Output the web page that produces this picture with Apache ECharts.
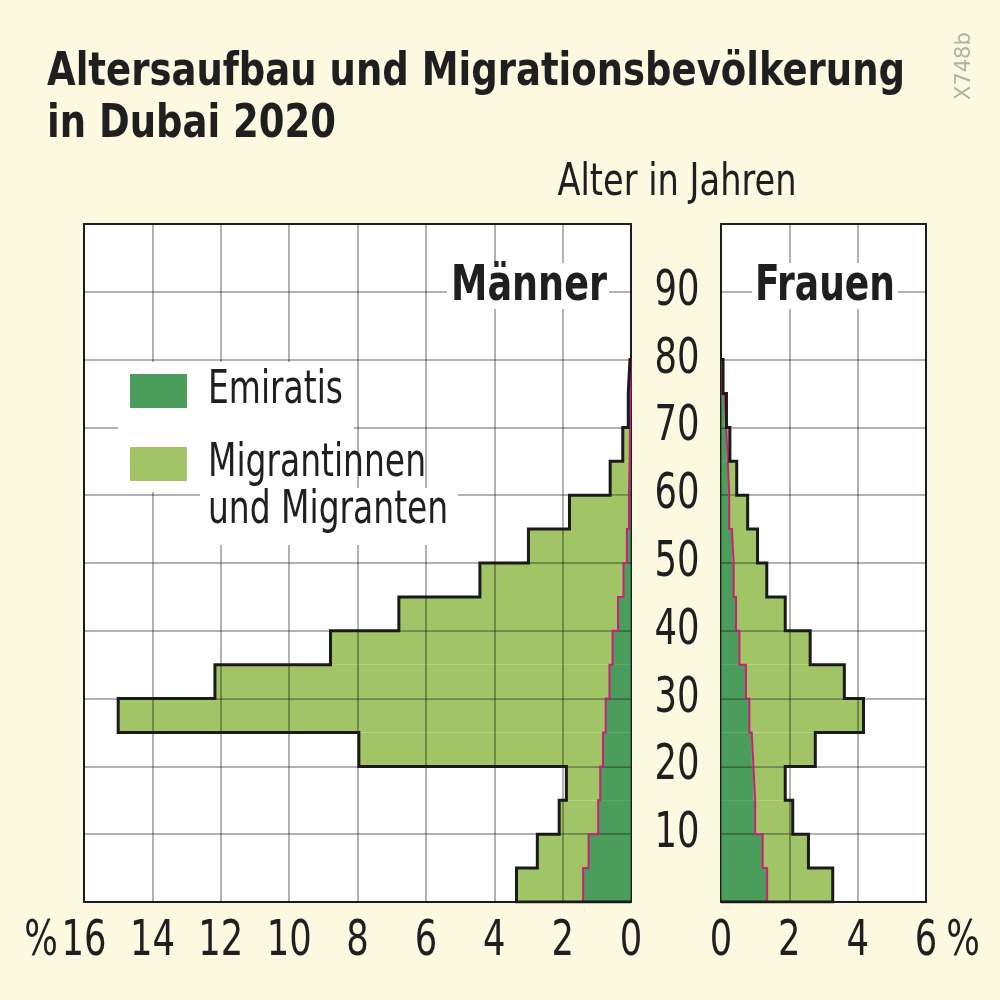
<!DOCTYPE html>
<html>
<head>
<meta charset="utf-8">
<title>Altersaufbau Dubai 2020</title>
<script src="https://cdn.jsdelivr.net/npm/echarts@6/dist/echarts.min.js"></script>
<style>
  html, body { margin: 0; padding: 0; background: #fdf8e0; }
  #chart { width: 1000px; height: 1000px; }
</style>
</head>
<body>
<div id="chart"></div>
<script>
// Altersgruppen in 5-Jahres-Schritten (0-4 ... 95-99)
const ageGroups = ['0-4', '5-9', '10-14', '15-19', '20-24', '25-29', '30-34', '35-39', '40-44',
  '45-49', '50-54', '55-59', '60-64', '65-69', '70-74', '75-79', '80-84', '85-89', '90-94', '95-99'];
const binStarts = [0, 5, 10, 15, 20, 25, 30, 35, 40, 45, 50, 55, 60, 65, 70, 75];
// Anteil in % (gesamt = Emiratis + Migranten)
const maleTotal = [3.35, 2.74, 2.1, 1.89, 7.96, 15.0, 12.17, 8.79, 6.79, 4.42, 3.0, 1.8, 0.61, 0.24, 0.08, 0.03];
const maleEmirati = [1.4, 1.24, 0.96, 0.9, 0.82, 0.74, 0.63, 0.54, 0.38, 0.22, 0.12, 0.06, 0.04, 0.03, 0.02, 0.01];
const femaleTotal = [3.27, 2.56, 2.1, 1.88, 2.76, 4.17, 3.61, 2.61, 1.88, 1.34, 1.07, 0.78, 0.46, 0.26, 0.16, 0.06];
const femaleEmirati = [1.35, 1.22, 1.0, 0.95, 0.9, 0.83, 0.73, 0.54, 0.44, 0.37, 0.32, 0.24, 0.2, 0.15, 0.1, 0.04];
const maleTicks = [0, 2, 4, 6, 8, 10, 12, 14, 16];
const femaleTicks = [0, 2, 4, 6];
const ageTicks = [10, 20, 30, 40, 50, 60, 70, 80, 90];

const FONT = '"DejaVu Sans Condensed", "DejaVu Sans", sans-serif';
const DARK = '#4b9d5b';
const LIGHT = '#a1c466';
const MAGENTA = '#cc1f7c';
const INK = '#1f1f1f';

// Stufenlinie aus den Balkenwerten bauen
function stepLine(values, closeToZero) {
  const pts = closeToZero ? [[0, 0]] : [];
  values.forEach((v, i) => {
    pts.push([v, binStarts[i]]);
    pts.push([v, binStarts[i] + 5]);
  });
  if (closeToZero) pts.push([0, binStarts[binStarts.length - 1] + 5]);
  return pts;
}

// schmale Schrift nachbilden: Text horizontal auf Zielbreite stauchen
const measureCtx = document.createElement('canvas').getContext('2d');
function squeeze(text, font, width) {
  measureCtx.font = font;
  return width / measureCtx.measureText(text).width;
}

function txt(text, x, y, font, width, align, scaleX) {
  return {
    type: 'text', x: x, y: y, z: 101,
    scaleX: scaleX || squeeze(text, font, width),
    style: { text: text, font: font, fill: INK, align: align || 'left', verticalAlign: 'middle' }
  };
}

const chart = echarts.init(document.getElementById('chart'));

const gridLineStyle = { color: 'rgba(0,0,0,0.3)', width: 2 };

function xAxisFor(gridIndex, max, inverse) {
  return {
    type: 'value', gridIndex: gridIndex, min: 0, max: max, interval: 2, inverse: inverse, z: 3,
    axisLine: { show: false }, axisTick: { show: false }, axisLabel: { show: false },
    splitLine: { show: true, lineStyle: gridLineStyle }
  };
}

function ageAxis(gridIndex) {
  return {
    type: 'value', gridIndex: gridIndex, position: 'left', min: 0, max: 100, interval: 10, z: 3,
    axisLine: { show: false }, axisTick: { show: false }, axisLabel: { show: false },
    splitLine: { show: true, lineStyle: gridLineStyle }
  };
}

function binAxis(gridIndex) {
  return { type: 'category', gridIndex: gridIndex, data: ageGroups, show: false };
}

function barSeries(xi, yi, data, color) {
  return {
    type: 'bar', xAxisIndex: xi, yAxisIndex: yi, data: data, barCategoryGap: '0%', barGap: '-100%',
    itemStyle: { color: color }, z: 2, silent: true
  };
}

function lineSeries(xi, yi, pts, color, width) {
  return {
    type: 'line', xAxisIndex: xi, yAxisIndex: yi, data: pts, showSymbol: false, z: 5,
    lineStyle: { color: color, width: width, join: 'miter' }, silent: true
  };
}

chart.setOption({
  backgroundColor: '#fdf8e0',
  animation: false,
  grid: [
    { left: 84, top: 224, width: 547, height: 678, show: true, backgroundColor: '#ffffff', borderColor: '#2a2a2a', borderWidth: 2 },
    { left: 721, top: 224, width: 205, height: 678, show: true, backgroundColor: '#ffffff', borderColor: '#2a2a2a', borderWidth: 2 }
  ],
  xAxis: [xAxisFor(0, 16, true), xAxisFor(1, 6, false)],
  yAxis: [binAxis(0), ageAxis(0), binAxis(1), ageAxis(1)],
  series: [
    barSeries(0, 0, maleTotal, LIGHT),
    barSeries(0, 0, maleEmirati, DARK),
    lineSeries(0, 1, stepLine(maleEmirati, false), MAGENTA, 2),
    lineSeries(0, 1, stepLine(maleTotal, true), '#1a1a1a', 3),
    barSeries(1, 2, femaleTotal, LIGHT),
    barSeries(1, 2, femaleEmirati, DARK),
    lineSeries(1, 3, stepLine(femaleEmirati, false), MAGENTA, 2),
    lineSeries(1, 3, stepLine(femaleTotal, true), '#1a1a1a', 3)
  ]
});

const titleFont = 'bold 46px ' + FONT;
const titleScale = squeeze('Altersaufbau und Migrationsbevölkerung', titleFont, 858);
const labelFont = '50px ' + FONT;
const labelScale = squeeze('90', labelFont, 45);
const headFont = 'bold 50px ' + FONT;
const legFont = '46px ' + FONT;
const legScale = squeeze('Migrantinnen', legFont, 218);

const graphics = [
  txt('Altersaufbau und Migrationsbevölkerung', 47, 73, titleFont, 0, 'left', titleScale),
  txt('in Dubai 2020', 47, 125, titleFont, 0, 'left', titleScale),
  { type: 'text', x: 954, y: 100, rotation: Math.PI / 2, z: 100,
    style: { text: 'X748b', font: '21px "DejaVu Sans", sans-serif', fill: '#b3b1a6' } },
  txt('Alter in Jahren', 677, 184, '44px ' + FONT, 239, 'center'),
  txt('%', 41, 942, labelFont, 0, 'center', labelScale),
  txt('%', 963, 942, labelFont, 0, 'center', labelScale),
  // Männer / Frauen mit weißem Hintergrund
  { type: 'rect', shape: { x: 447, y: 263, width: 162, height: 46 }, style: { fill: '#ffffff' }, z: 100 },
  txt('Männer', 529, 287, headFont, 156, 'center'),
  { type: 'rect', shape: { x: 752, y: 263, width: 146, height: 46 }, style: { fill: '#ffffff' }, z: 100 },
  txt('Frauen', 825, 287, headFont, 140, 'center'),
  // Legende
  { type: 'rect', shape: { x: 118, y: 362, width: 236, height: 130 }, style: { fill: '#ffffff' }, z: 100 },
  { type: 'rect', shape: { x: 200, y: 488, width: 258, height: 57 }, style: { fill: '#ffffff' }, z: 100 },
  { type: 'rect', shape: { x: 130, y: 374, width: 57, height: 34 }, style: { fill: DARK }, z: 101 },
  { type: 'rect', shape: { x: 130, y: 447, width: 57, height: 34 }, style: { fill: LIGHT }, z: 101 },
  txt('Emiratis', 208, 391, legFont, 0, 'left', legScale),
  txt('Migrantinnen', 208, 464, legFont, 0, 'left', legScale),
  txt('und Migranten', 208, 511, legFont, 0, 'left', legScale)
];

// Achsenbeschriftungen über die Achsen der Bibliothek positionieren
maleTicks.forEach(v => {
  graphics.push(txt(String(v), chart.convertToPixel({ xAxisIndex: 0 }, v), 942, labelFont, 0, 'center', labelScale));
});
femaleTicks.forEach(v => {
  graphics.push(txt(String(v), chart.convertToPixel({ xAxisIndex: 1 }, v), 942, labelFont, 0, 'center', labelScale));
});
ageTicks.forEach(v => {
  graphics.push(txt(String(v), 677, chart.convertToPixel({ yAxisIndex: 3 }, v), labelFont, 0, 'center', labelScale));
});

chart.setOption({ graphic: graphics });
</script>
</body>
</html>
